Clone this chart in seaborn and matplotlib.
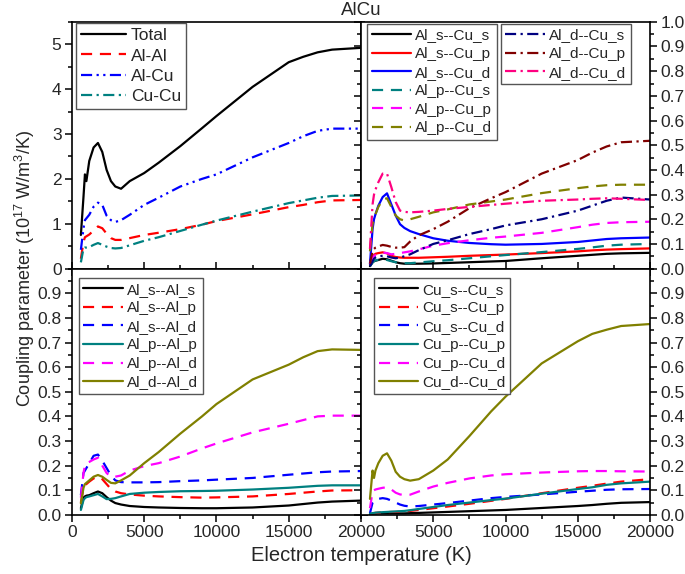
import matplotlib
matplotlib.use("Agg")
import matplotlib.pyplot as plt
from matplotlib.ticker import MultipleLocator, FormatStrFormatter, FixedLocator
import seaborn as sns

# electron temperature grid (K)
T = [620, 800, 900, 1000, 1200, 1500, 1800, 2100, 2400, 2700, 3000, 3400, 4000,
     5000, 6000, 7500, 9000, 10000, 12500, 15000, 16000, 17000, 18000, 20000]

# top left: total and atom pairs
total = [0.75, 1.6, 2.1, 1.95, 2.4, 2.7, 2.8, 2.6, 2.2, 1.95, 1.83, 1.78, 1.95,
         2.13, 2.36, 2.73, 3.13, 3.4, 4.05, 4.6, 4.72, 4.82, 4.88, 4.92]
al_al = [0.22, 0.6, 0.7, 0.72, 0.76, 0.85, 0.94, 0.9, 0.78, 0.68, 0.64, 0.64, 0.68,
         0.75, 0.8, 0.88, 0.98, 1.06, 1.21, 1.37, 1.42, 1.48, 1.52, 1.53]
al_cu = [0.42, 0.9, 1.08, 1.12, 1.2, 1.38, 1.47, 1.42, 1.18, 1.08, 1.04, 1.08, 1.2,
         1.42, 1.58, 1.83, 2.0, 2.1, 2.48, 2.8, 2.95, 3.07, 3.12, 3.12]
cu_cu = [0.14, 0.45, 0.47, 0.47, 0.48, 0.53, 0.57, 0.53, 0.49, 0.46, 0.45, 0.46, 0.52,
         0.62, 0.7, 0.84, 0.98, 1.07, 1.27, 1.46, 1.52, 1.58, 1.62, 1.63]

# top right: Al-Cu orbital pairs
als_cus = [0.01, 0.025, 0.03, 0.032, 0.035, 0.04, 0.038, 0.032, 0.026, 0.022, 0.02, 0.02, 0.02,
           0.021, 0.023, 0.026, 0.029, 0.031, 0.042, 0.052, 0.056, 0.06, 0.062, 0.064]
als_cup = [0.015, 0.045, 0.055, 0.06, 0.063, 0.066, 0.062, 0.052, 0.047, 0.045, 0.044, 0.044, 0.044,
           0.046, 0.048, 0.052, 0.055, 0.057, 0.063, 0.07, 0.074, 0.077, 0.079, 0.082]
als_cud = [0.02, 0.16, 0.2, 0.22, 0.255, 0.29, 0.305, 0.26, 0.215, 0.18, 0.165, 0.152, 0.14,
           0.123, 0.113, 0.104, 0.099, 0.097, 0.1, 0.108, 0.114, 0.12, 0.123, 0.126]
alp_cus = [0.01, 0.025, 0.03, 0.033, 0.036, 0.038, 0.035, 0.03, 0.026, 0.023, 0.022, 0.022, 0.025,
           0.03, 0.034, 0.042, 0.05, 0.055, 0.067, 0.08, 0.086, 0.093, 0.097, 0.1]
alp_cup = [0.02, 0.045, 0.05, 0.055, 0.06, 0.065, 0.063, 0.058, 0.06, 0.063, 0.066, 0.07, 0.078,
           0.093, 0.103, 0.115, 0.125, 0.13, 0.145, 0.168, 0.178, 0.185, 0.188, 0.19]
alp_cud = [0.07, 0.18, 0.2, 0.22, 0.25, 0.28, 0.285, 0.25, 0.215, 0.2, 0.195, 0.2, 0.21,
           0.228, 0.24, 0.26, 0.272, 0.28, 0.306, 0.326, 0.333, 0.338, 0.34, 0.34]
ald_cus = [0.01, 0.03, 0.04, 0.045, 0.05, 0.052, 0.05, 0.045, 0.042, 0.045, 0.05, 0.058, 0.075,
           0.1, 0.115, 0.14, 0.16, 0.175, 0.2, 0.235, 0.255, 0.275, 0.288, 0.28]
ald_cup = [0.02, 0.07, 0.08, 0.085, 0.09, 0.096, 0.093, 0.088, 0.085, 0.085, 0.087, 0.11, 0.135,
           0.16, 0.19, 0.245, 0.285, 0.31, 0.385, 0.44, 0.47, 0.495, 0.512, 0.518]
ald_cud = [0.08, 0.26, 0.3, 0.32, 0.35, 0.385, 0.385, 0.33, 0.27, 0.235, 0.23, 0.228, 0.23,
           0.235, 0.242, 0.25, 0.258, 0.263, 0.275, 0.28, 0.283, 0.285, 0.283, 0.278]

# bottom left: Al-Al orbital pairs
als_als = [0.027, 0.07, 0.075, 0.078, 0.08, 0.088, 0.095, 0.088, 0.072, 0.058, 0.048, 0.042, 0.036,
           0.032, 0.03, 0.028, 0.027, 0.027, 0.03, 0.038, 0.044, 0.05, 0.054, 0.058]
als_alp = [0.05, 0.11, 0.12, 0.125, 0.135, 0.148, 0.155, 0.145, 0.125, 0.105, 0.095, 0.088, 0.083,
           0.078, 0.075, 0.072, 0.07, 0.071, 0.075, 0.085, 0.09, 0.095, 0.099, 0.1]
als_ald = [0.08, 0.17, 0.18, 0.19, 0.21, 0.24, 0.245, 0.22, 0.19, 0.16, 0.14, 0.133, 0.132,
           0.132, 0.133, 0.137, 0.14, 0.143, 0.15, 0.163, 0.168, 0.173, 0.176, 0.178]
alp_alp = [0.02, 0.06, 0.068, 0.072, 0.075, 0.08, 0.085, 0.075, 0.064, 0.065, 0.068, 0.075, 0.085,
           0.09, 0.093, 0.096, 0.097, 0.098, 0.103, 0.11, 0.114, 0.118, 0.12, 0.12]
alp_ald = [0.07, 0.17, 0.2, 0.21, 0.215, 0.225, 0.232, 0.2, 0.17, 0.155, 0.155, 0.16, 0.18,
           0.198, 0.21, 0.237, 0.27, 0.29, 0.335, 0.37, 0.385, 0.4, 0.403, 0.403]
ald_ald = [0.047, 0.11, 0.125, 0.13, 0.14, 0.155, 0.162, 0.155, 0.142, 0.13, 0.128, 0.14, 0.16,
           0.21, 0.255, 0.33, 0.4, 0.45, 0.55, 0.61, 0.64, 0.665, 0.672, 0.67]

# bottom right: Cu-Cu orbital pairs
cus_cus = [0.002, 0.004, 0.005, 0.005, 0.006, 0.006, 0.006, 0.006, 0.006, 0.006, 0.006, 0.007, 0.008,
           0.01, 0.012, 0.015, 0.018, 0.02, 0.028, 0.036, 0.04, 0.045, 0.049, 0.052]
cus_cup = [0.003, 0.006, 0.007, 0.008, 0.009, 0.01, 0.011, 0.012, 0.012, 0.013, 0.014, 0.016, 0.02,
           0.027, 0.034, 0.045, 0.057, 0.065, 0.088, 0.11, 0.118, 0.127, 0.135, 0.145]
cus_cud = [0.007, 0.05, 0.058, 0.062, 0.065, 0.068, 0.065, 0.058, 0.05, 0.042, 0.037, 0.034, 0.036,
           0.042, 0.048, 0.058, 0.068, 0.073, 0.083, 0.094, 0.098, 0.102, 0.104, 0.105]
cup_cup = [0.005, 0.007, 0.008, 0.009, 0.01, 0.011, 0.012, 0.013, 0.014, 0.015, 0.016, 0.019, 0.024,
           0.032, 0.04, 0.05, 0.06, 0.066, 0.086, 0.105, 0.112, 0.122, 0.128, 0.135]
cup_cud = [0.027, 0.095, 0.1, 0.103, 0.106, 0.11, 0.112, 0.103, 0.09, 0.083, 0.081, 0.082, 0.095,
           0.115, 0.13, 0.148, 0.16, 0.165, 0.172, 0.177, 0.178, 0.178, 0.177, 0.176]
cud_cud = [0.065, 0.18, 0.15, 0.18, 0.21, 0.24, 0.25, 0.22, 0.175, 0.155, 0.145, 0.139, 0.145,
           0.18, 0.225, 0.32, 0.42, 0.48, 0.615, 0.705, 0.735, 0.752, 0.767, 0.775]

sns.set_theme(style="ticks")
plt.rcParams['font.family'] = ['Liberation Sans', 'DejaVu Sans']
plt.rcParams['mathtext.default'] = 'regular'

SOLID = '-'
DASH = (0, (5, 3.5))
DASHDOT = (0, (5, 2, 1, 2))
DASHDOTDOT = (0, (5, 2, 1, 2, 1, 2))

RED, BLUE, TEAL = '#FF0000', '#0000FF', '#008080'
MAG, OLIVE, NAVY, DRED, PINK = '#FF00FF', '#808000', '#000080', '#800000', '#FF0080'

fig = plt.figure(figsize=(6.85, 5.74), dpi=100)
L, M, R = 0.105, 0.527, 0.949
B, H, TOP = 0.103, 0.532, 0.962
ax_tl = fig.add_axes([L, H, M - L, TOP - H])
ax_tr = fig.add_axes([M, H, R - M, TOP - H])
ax_bl = fig.add_axes([L, B, M - L, H - B])
ax_br = fig.add_axes([M, B, R - M, H - B])


def draw(ax, series):
    for label, vals, color, ls in series:
        sns.lineplot(x=T, y=vals, ax=ax, color=color, linestyle=ls, lw=1.6,
                     label=label, estimator=None, sort=False, legend=False)


def legend(ax, handles, labels, anchor, fs=11):
    lg = ax.legend(handles, labels, loc='upper left', bbox_to_anchor=anchor,
                   borderaxespad=0, fontsize=fs, frameon=True, fancybox=False,
                   edgecolor='#555555', framealpha=1, handlelength=2.6,
                   handletextpad=0.25, labelspacing=0.3, borderpad=0.3)
    lg.get_frame().set_linewidth(1.0)
    return lg


draw(ax_tl, [('Total', total, 'black', SOLID),
             ('Al-Al', al_al, RED, DASH),
             ('Al-Cu', al_cu, BLUE, DASHDOTDOT),
             ('Cu-Cu', cu_cu, TEAL, DASHDOT)])
draw(ax_tr, [('Al_s--Cu_s', als_cus, 'black', SOLID),
             ('Al_s--Cu_p', als_cup, RED, SOLID),
             ('Al_s--Cu_d', als_cud, BLUE, SOLID),
             ('Al_p--Cu_s', alp_cus, TEAL, DASH),
             ('Al_p--Cu_p', alp_cup, MAG, DASH),
             ('Al_p--Cu_d', alp_cud, OLIVE, DASH),
             ('Al_d--Cu_s', ald_cus, NAVY, DASHDOT),
             ('Al_d--Cu_p', ald_cup, DRED, DASHDOT),
             ('Al_d--Cu_d', ald_cud, PINK, DASHDOT)])
draw(ax_bl, [('Al_s--Al_s', als_als, 'black', SOLID),
             ('Al_s--Al_p', als_alp, RED, DASH),
             ('Al_s--Al_d', als_ald, BLUE, DASH),
             ('Al_p--Al_p', alp_alp, TEAL, SOLID),
             ('Al_p--Al_d', alp_ald, MAG, DASH),
             ('Al_d--Al_d', ald_ald, OLIVE, SOLID)])
draw(ax_br, [('Cu_s--Cu_s', cus_cus, 'black', SOLID),
             ('Cu_s--Cu_p', cus_cup, RED, DASH),
             ('Cu_s--Cu_d', cus_cud, BLUE, DASH),
             ('Cu_p--Cu_p', cup_cup, TEAL, SOLID),
             ('Cu_p--Cu_d', cup_cud, MAG, DASH),
             ('Cu_d--Cu_d', cud_cud, OLIVE, SOLID)])

# legends
h, l = ax_tl.get_legend_handles_labels()
legend(ax_tl, h, l, (0.014, 0.996), fs=12.5)
h, l = ax_tr.get_legend_handles_labels()
lg1 = legend(ax_tr, h[:6], l[:6], (0.021, 0.992))
ax_tr.add_artist(lg1)
legend(ax_tr, h[6:], l[6:], (0.484, 0.992))
h, l = ax_bl.get_legend_handles_labels()
legend(ax_bl, h, l, (0.024, 0.962))
h, l = ax_br.get_legend_handles_labels()
legend(ax_br, h, l, (0.045, 0.962))

for ax in (ax_tl, ax_tr, ax_bl, ax_br):
    ax.set_xlim(0, 20000)
    ax.xaxis.set_major_locator(MultipleLocator(5000))
    ax.xaxis.set_minor_locator(MultipleLocator(2500))
    for s in ax.spines.values():
        s.set_visible(True)
        s.set_linewidth(1.2)
        s.set_color('black')
    ax.tick_params(which='both', direction='out', color='black', width=1.1,
                   labelsize=12.5, pad=2.5, left=True, right=True, bottom=True, top=False,
                   labelleft=False, labelright=False, labelbottom=False)
    ax.tick_params(which='major', length=5)
    ax.tick_params(which='minor', length=3)
    ax.set_xlabel('')
    ax.set_ylabel('')

ax_tl.set_ylim(0, 5.5)
ax_tl.yaxis.set_major_locator(MultipleLocator(1))
ax_tl.yaxis.set_minor_locator(MultipleLocator(0.5))
ax_tl.tick_params(labelleft=True)

for ax in (ax_tr, ax_bl, ax_br):
    ax.set_ylim(0, 1.0)
    ax.yaxis.set_minor_locator(MultipleLocator(0.05))
    ax.yaxis.set_major_formatter(FormatStrFormatter('%.1f'))

ax_tr.yaxis.set_major_locator(MultipleLocator(0.1))
ax_tr.tick_params(labelright=True)
ax_bl.yaxis.set_major_locator(FixedLocator([i / 10 for i in range(10)]))
ax_bl.tick_params(labelleft=True, labelbottom=True)
ax_br.yaxis.set_major_locator(FixedLocator([i / 10 for i in range(10)]))
ax_br.xaxis.set_major_locator(FixedLocator([5000, 10000, 15000, 20000]))
ax_br.tick_params(labelright=True, labelbottom=True)
for ax in (ax_bl, ax_br):
    ax.tick_params(which='both', top=True)

fig.text(M, 0.982, 'AlCu', ha='center', va='center', fontsize=13.5)
fig.text(0.036, (B + TOP) / 2, 'Coupling parameter (10$^{17}$ W/m$^{3}$/K)',
         rotation=90, ha='center', va='center', fontsize=13)
fig.text(M, 0.033, 'Electron temperature (K)', ha='center', va='center', fontsize=14.5)

fig.savefig('out.png', dpi=100)
